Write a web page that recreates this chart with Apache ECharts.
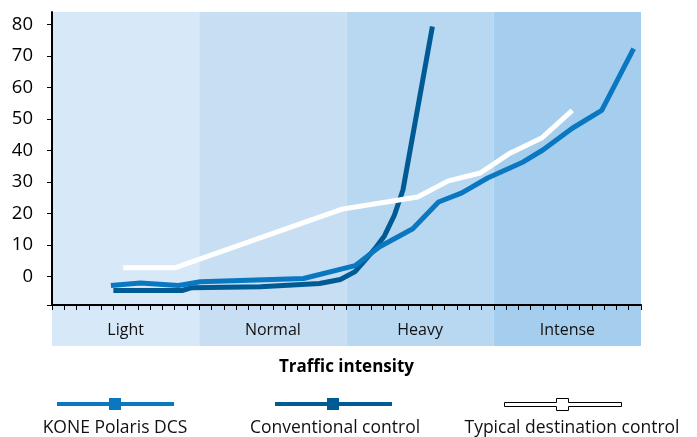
<!DOCTYPE html>
<html>
<head>
<meta charset="utf-8">
<script src="https://cdn.jsdelivr.net/npm/echarts@6/dist/echarts.min.js"></script>
<style>
  html, body { margin: 0; padding: 0; background: #fff; }
  #chart { width: 697px; height: 437px; }
</style>
</head>
<body>
<div id="chart"></div>
<script>
// traffic bands shown under the x axis
const bands = ['Light', 'Normal', 'Heavy', 'Intense'];
const bandColors = ['#d7e8f8', '#c7def3', '#b8d7f1', '#a4cdee'];

// y tick values
const yTicks = [0, 10, 20, 30, 40, 50, 60, 70, 80];

// series, [x position along 0..48 scale, value]
const koneDCS = [
    [4.8, -2.8], [7.2, -2.0], [10.3, -2.8], [12.1, -1.6], [20.5, -0.6],
    [24.7, 3.5], [26.7, 9.5], [29.4, 15.2], [31.5, 23.7], [33.4, 26.6],
    [35.5, 31.3], [38.4, 36.4], [40.0, 40.2], [42.4, 47.1], [44.8, 52.8],
    [47.4, 72.4]
];
const conventional = [
    [5.0, -4.4], [10.6, -4.4], [11.4, -3.5], [17.0, -3.2], [21.8, -2.2],
    [23.5, -0.9], [24.7, 1.6], [25.5, 5.2], [26.3, 8.8], [27.1, 13.0],
    [27.9, 19.5], [28.6, 27.5], [31.0, 79.4]
];
const typicalDest = [
    [5.8, 2.8], [10.0, 2.8], [23.7, 21.5], [29.8, 25.3], [32.3, 30.4],
    [34.9, 32.9], [37.2, 38.9], [39.9, 44.0], [42.4, 52.8]
];

const names = ['KONE Polaris DCS', 'Conventional control', 'Typical destination control'];
const colors = ['#0a77c1', '#005b95', '#ffffff'];

const font = '"Open Sans", "Noto Sans", sans-serif';
// legend icon: thick line with a square in the middle
const legendIcon = 'path://M0,4L52,4L52,0L64,0L64,4L117,4L117,8L64,8L64,12L52,12L52,8L0,8Z';

var chart = echarts.init(document.getElementById('chart'));

function makeLegend(i, left) {
    return {
        data: [{ name: names[i], icon: legendIcon }],
        left: left,
        top: 398,
        padding: 0,
        itemWidth: 117,
        itemHeight: 12,
        formatter: function () { return ''; },
        selectedMode: false,
        itemStyle: i === 2
            ? { color: '#ffffff', borderColor: '#000000', borderWidth: 1 }
            : { color: colors[i], borderWidth: 0 }
    };
}

function legendText(i, x) {
    return {
        type: 'text', x: x, y: 428,
        style: { text: names[i], align: 'center', verticalAlign: 'middle', font: '17.5px ' + font, fill: '#111' }
    };
}

var option = {
    animation: false,
    grid: [
        { left: 52, right: 56, top: 12, bottom: 132 },
        { left: 52, right: 56, top: 12, bottom: 91 }
    ],
    xAxis: [
        {
            type: 'value', gridIndex: 0, min: 0, max: 48, interval: 1,
            axisLine: { onZero: false, lineStyle: { color: '#000', width: 2 } },
            axisTick: { show: true, length: 5, lineStyle: { color: '#000', width: 1 } },
            axisLabel: { show: false },
            splitLine: { show: false }
        },
        {
            type: 'category', gridIndex: 1, data: bands, z: -1,
            axisLine: { show: false },
            axisTick: { show: false },
            axisLabel: {
                inside: true, margin: 8, color: '#111',
                fontFamily: font, fontSize: 16
            },
            splitArea: { show: true, interval: 0, areaStyle: { color: bandColors } },
            name: 'Traffic intensity',
            nameLocation: 'middle',
            nameGap: 13,
            nameTextStyle: {
                color: '#000', fontFamily: font, fontSize: 17, fontWeight: 'bold',
                verticalAlign: 'top'
            }
        }
    ],
    yAxis: [
        {
            type: 'value', gridIndex: 0, min: -9, max: 84,
            axisLine: { show: true, onZero: false, lineStyle: { color: '#000', width: 2 } },
            axisTick: {
                show: true, length: 5, customValues: [-9].concat(yTicks),
                lineStyle: { color: '#000', width: 1 }
            },
            axisLabel: {
                customValues: yTicks, margin: 19, color: '#000',
                fontFamily: font, fontSize: 18.5
            },
            splitLine: { show: false }
        },
        { type: 'value', gridIndex: 1, show: false }
    ],
    legend: [makeLegend(0, 57), makeLegend(1, 275), makeLegend(2, 504)],
    graphic: [legendText(0, 115), legendText(1, 335), legendText(2, 572)],
    series: [
        {
            name: names[1], type: 'line', data: conventional,
            xAxisIndex: 0, yAxisIndex: 0, showSymbol: false, symbol: 'rect',
            lineStyle: { color: colors[1], width: 5 }, itemStyle: { color: colors[1] }
        },
        {
            name: names[0], type: 'line', data: koneDCS,
            xAxisIndex: 0, yAxisIndex: 0, showSymbol: false, symbol: 'rect',
            lineStyle: { color: colors[0], width: 5 }, itemStyle: { color: colors[0] }
        },
        {
            name: names[2], type: 'line', data: typicalDest,
            xAxisIndex: 0, yAxisIndex: 0, showSymbol: false, symbol: 'rect',
            lineStyle: { color: colors[2], width: 5 }, itemStyle: { color: colors[2] }
        }
    ]
};

chart.setOption(option);
</script>
</body>
</html>
